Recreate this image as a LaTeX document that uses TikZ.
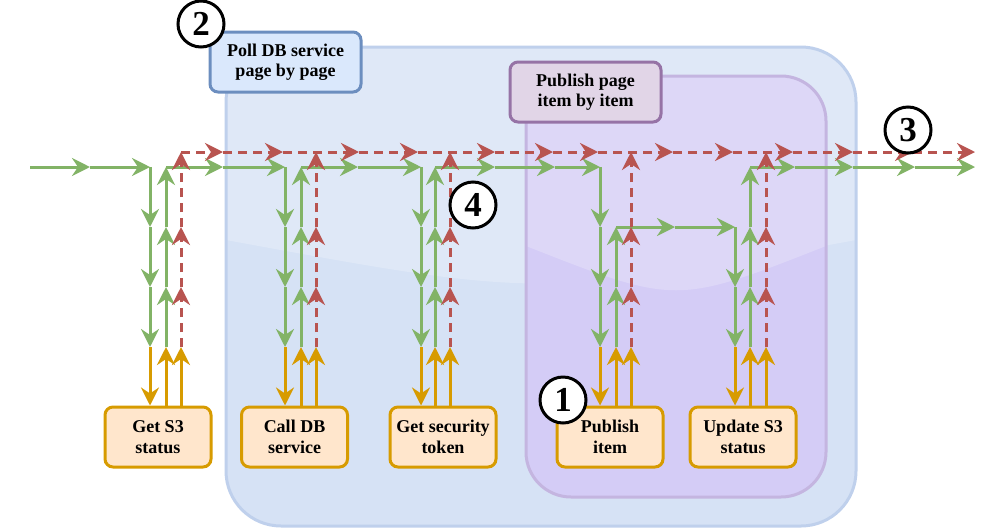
\documentclass[tikz,border=0pt]{standalone}
\usepackage{fontspec}
\setmainfont{Liberation Serif}
\usepackage{tikz}
\usetikzlibrary{arrows.meta}
\definecolor{greenc}{HTML}{82B366}
\definecolor{redc}{HTML}{B85450}
\definecolor{orangec}{HTML}{D79B00}
\definecolor{orangefill}{HTML}{FFE6CC}
\definecolor{pollfill}{HTML}{D6E2F5}
\definecolor{polldraw}{HTML}{BFD0EC}
\definecolor{pubfill}{HTML}{D4CCF6}
\definecolor{pubdraw}{HTML}{C4B5E0}
\definecolor{polllabelfill}{HTML}{DAE8FC}
\definecolor{polllabeldraw}{HTML}{6C8EBF}
\definecolor{publabelfill}{HTML}{E1D5E7}
\definecolor{publabeldraw}{HTML}{9673A6}
\tikzset{
  arrowhead/.style={-{Stealth[length=18pt,width=18pt,inset=6pt]}},
  gline/.style={greenc,line width=3pt,arrowhead},
  rline/.style={redc,line width=3pt,dash pattern=on 9pt off 6pt,arrowhead},
  oline/.style={orangec,line width=3pt,arrowhead},
  boxtext/.style={align=center,inner sep=0pt,font=\bfseries\fontsize{18}{20.5}\selectfont},
  taskbox/.style={boxtext,draw=orangec,fill=orangefill,line width=3pt,rounded corners=8pt,
    minimum width=106pt,minimum height=60pt},
  labelbox/.style={boxtext,line width=3pt,rounded corners=8pt,minimum width=151pt,minimum height=60pt},
  stepnum/.style={circle,draw,fill=white,line width=3pt,minimum size=46pt,inner sep=0pt,
    font=\bfseries\fontsize{35}{35}\selectfont},
}
\begin{document}
\begin{tikzpicture}[x=1pt,y=-1pt]
\useasboundingbox (0,0) rectangle (990,528);
% containers
\fill[pollfill,rounded corners=55pt] (226,47) rectangle (856,526);
\begin{scope}
\clip[rounded corners=55pt] (226,47) rectangle (856,526);
\fill[white,fill opacity=0.22] (226,47) -- (226,240) .. controls (541,298) .. (856,240) -- (856,47) -- cycle;
\end{scope}
\draw[polldraw,line width=3pt,rounded corners=55pt] (226,47) rectangle (856,526);
\fill[pubfill,rounded corners=45pt] (526,76) rectangle (826,497);
\begin{scope}
\clip[rounded corners=45pt] (526,76) rectangle (826,497);
\fill[white,fill opacity=0.22] (526,76) -- (526,246) .. controls (676,305) .. (826,246) -- (826,76) -- cycle;
\end{scope}
\draw[pubdraw,line width=3pt,rounded corners=45pt] (526,76) rectangle (826,497);
\node[labelbox,draw=polllabeldraw,fill=polllabelfill] (poll) at (285.5,62) {Poll DB service\\page by page};
\node[labelbox,draw=publabeldraw,fill=publabelfill] (pub) at (585.5,92) {Publish page\\item by item};

% tasks
\node[taskbox] (s3get) at (158,437) {Get S3\\status};
\node[taskbox] (dbcall) at (294.5,437) {Call DB\\service};
\node[taskbox] (token) at (443,437) {Get security\\token};
\node[taskbox] (publish) at (610,437) {Publish\\item};
\node[taskbox] (s3upd) at (743,437) {Update S3\\status};

% column points: d = down, u = up, r = return
\foreach \n/\xd/\xu/\xr in {1/150/166/181,2/285/301/316,3/421/435/450,4/600/616/631,5/735/750/766}{
  \foreach \k in {0,...,3}{
    \coordinate (d\n-\k) at (\xd,167+60*\k);
    \coordinate (u\n-\k) at (\xu,167+60*\k);
    \coordinate (r\n-\k) at (\xr,167+60*\k);
  }
  \coordinate (r\n-0) at (\xr,152);
}
\coordinate (in) at (30,167);
\foreach \x/\nm in {90/ga,223/gb,358/gc,495/gd,555/ge,795/gf,853/gg,915/gh,975/gi}
  \coordinate (\nm) at (\x,167);
\coordinate (gm) at (675,227);
\foreach \x/\nm in {223/ra,283/rb,359/rc,418/rd,495/re,553/rf,598/rg,673/rh,733/ri,793/rj,853/rk,913/rl,975/rm}
  \coordinate (\nm) at (\x,152);

% green flow
\foreach \a/\b in {in/ga,ga/d1-0,u1-0/gb,gb/d2-0,u2-0/gc,gc/d3-0,u3-0/gd,gd/ge,ge/d4-0,
    u4-1/gm,gm/d5-1,u5-0/gf,gf/gg,gg/gh,gh/gi}
  \draw[gline] (\a) -- (\b);
\foreach \n/\s in {1/0,2/0,3/0,4/0,5/1}
  \foreach \k in {\s,...,2}{
    \pgfmathtruncatemacro\kk{\k+1}
    \draw[gline] (d\n-\k) -- (d\n-\kk);
  }
\foreach \n/\f in {1/1,2/1,3/1,4/2,5/1}
  \foreach \k in {3,...,\f}{
    \pgfmathtruncatemacro\kk{\k-1}
    \draw[gline] (u\n-\k) -- (u\n-\kk);
  }

% red flow
\foreach \a/\b in {r1-0/ra,ra/rb,rb/rc,rc/rd,rd/re,re/rf,rf/rg,rg/rh,rh/ri,ri/rj,rj/rk,rk/rl,rl/rm}
  \draw[rline] (\a) -- (\b);
\foreach \n in {1,...,5}
  \foreach \k in {3,2,1}{
    \pgfmathtruncatemacro\kk{\k-1}
    \draw[rline] (r\n-\k) -- (r\n-\kk);
  }

% calls to tasks
\foreach \n/\b in {1/s3get,2/dbcall,3/token,4/publish,5/s3upd}{
  \draw[oline] (d\n-3) -- (d\n-3 |- \b.north);
  \draw[oline] (u\n-3 |- \b.north) -- (u\n-3);
  \draw[oline] (r\n-3 |- \b.north) -- (r\n-3);
}

% step numbers
\node[stepnum] (one) at (563,400) {1};
\node[stepnum] (two) at (201,24) {2};
\node[stepnum] (three) at (908,130) {3};
\node[stepnum] (four) at (473,205) {4};
\end{tikzpicture}
\end{document}
